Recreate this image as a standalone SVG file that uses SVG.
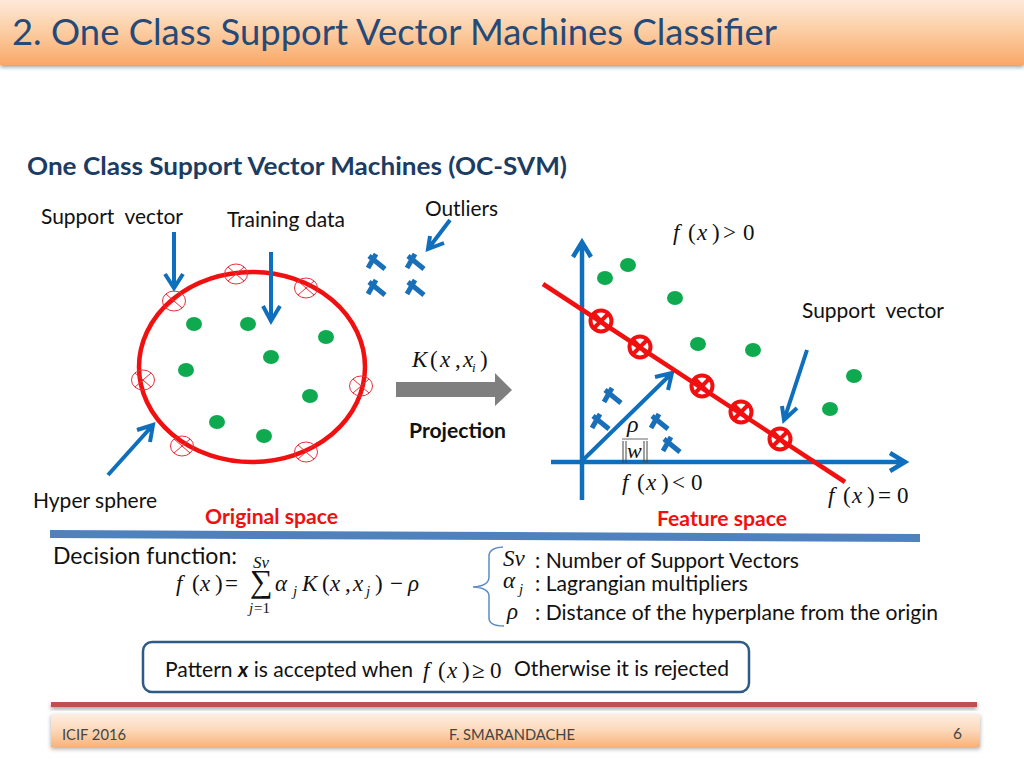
<svg xmlns="http://www.w3.org/2000/svg" width="1024" height="768" viewBox="0 0 1024 768">
<style>
text{font-family:Lato,"Open Sans","Liberation Sans",sans-serif;fill:#111}
.lbl{font-size:20.500px}
text.m{font-family:"Liberation Serif",serif;font-size:23px;fill:#111}
.i{font-style:italic}
.b{font-weight:700}
text.red{fill:#f01010}
.g{fill:#0faa4f}
.ar{fill:none;stroke:#0f6fbd;stroke-width:4;stroke-linecap:butt;stroke-linejoin:miter}
.sv{fill:none;stroke:#e8303a;stroke-width:1}
.svb{fill:none;stroke:#f01010;stroke-width:4}
.t{fill:none;stroke:#1a70b8;stroke-width:5}
</style>
<defs>
<linearGradient id="hd" x1="0" y1="0" x2="0" y2="1"><stop offset="0" stop-color="#fde9d9"/><stop offset="0.45" stop-color="#fccfa6"/><stop offset="1" stop-color="#f9a868"/></linearGradient>
<linearGradient id="ft" x1="0" y1="0" x2="0" y2="1"><stop offset="0" stop-color="#fdeee2"/><stop offset="0.5" stop-color="#fcd8b8"/><stop offset="1" stop-color="#f9b27a"/></linearGradient>
<filter id="sh" x="-2%" y="-20%" width="104%" height="150%"><feGaussianBlur stdDeviation="2"/></filter>
<g id="sc"><ellipse rx="11.500" ry="10" class="sv"/><path d="M-8-7L8 7M-8 7L8-7" class="sv"/></g>
<g id="sb"><circle r="10.500" class="svb"/><path d="M-7.500-7.500L7.500 7.500M-7.500 7.500L7.500-7.500" class="svb"/></g>
<g id="tx"><path d="M-6-6L10 7M-7 6L1-8" class="t"/></g>
</defs>

<g id="header">
<rect x="0" y="3" width="1024" height="64" fill="#999" filter="url(#sh)"/>
<rect x="0" y="0" width="1024" height="65" fill="url(#hd)"/>
<text x="12" y="45" font-size="37" textLength="765" lengthAdjust="spacingAndGlyphs" style="fill:#254a78">2. One Class Support Vector Machines Classifier</text>
</g>
<text id="subtitle" x="27" y="175" font-size="25" class="b" textLength="540" lengthAdjust="spacingAndGlyphs" style="fill:#1b3c63">One Class Support Vector Machines (OC-SVM)</text>

<g id="labels-left">
<text class="lbl" x="41" y="224" textLength="142" lengthAdjust="spacingAndGlyphs">Support&#160; vector</text>
<text class="lbl" x="227" y="227" textLength="118" lengthAdjust="spacingAndGlyphs">Training data</text>
<text class="lbl" x="425" y="216" textLength="73" lengthAdjust="spacingAndGlyphs">Outliers</text>
<text class="lbl" x="33" y="508" textLength="124" lengthAdjust="spacingAndGlyphs">Hyper sphere</text>
<text class="lbl b red" x="205" y="524" textLength="133" lengthAdjust="spacingAndGlyphs">Original space</text>
<text class="lbl b" x="409" y="438" textLength="97" lengthAdjust="spacingAndGlyphs">Projection</text>
</g>

<g id="hyper-sphere">
<ellipse cx="252" cy="367" rx="113" ry="95" fill="none" stroke="#f01010" stroke-width="4.500"/>
</g>
<g id="support-left">
<use href="#sc" x="236" y="274"/><use href="#sc" x="306" y="288"/><use href="#sc" x="174" y="301"/><use href="#sc" x="143" y="380"/><use href="#sc" x="361" y="386"/><use href="#sc" x="182" y="446"/><use href="#sc" x="306" y="452"/>
</g>
<g id="points-left" class="g">
<ellipse cx="194" cy="324" rx="8" ry="7"/><ellipse cx="248" cy="324" rx="8" ry="7"/><ellipse cx="326" cy="337" rx="8" ry="7"/><ellipse cx="271" cy="357" rx="8" ry="7"/><ellipse cx="186" cy="370" rx="8" ry="7"/><ellipse cx="310" cy="396" rx="8" ry="7"/><ellipse cx="217" cy="422" rx="8" ry="7"/><ellipse cx="264" cy="436" rx="8" ry="7"/>
</g>
<g id="outliers-left">
<use href="#tx" x="375" y="262"/><use href="#tx" x="414" y="262"/><use href="#tx" x="375" y="288"/><use href="#tx" x="414" y="288"/>
</g>

<g id="connectors">
<path class="ar" d="M174 232V288M165 274L174 288L183 274"/>
<path class="ar" d="M271 252V321M263 306L271 321L280 306"/>
<path class="ar" d="M450 220L428 249M430 236L428 249L444 243"/>
<path class="ar" d="M108 475L153 425M137 430L153 425L150 442"/>
<path class="ar" style="stroke-width:4.500" d="M582 500V242M573 257L582 242L591 257"/>
<path class="ar" style="stroke-width:4.500" d="M551 462H905M890 453L905 462L890 471"/>
<path class="ar" d="M583 460L672 373M655 377L672 373L668 390"/>
<path class="ar" d="M807 350L784 420M782 406L784 420L797 408"/>
</g>
<path id="projection-arrow" d="M396 382H495V373L512 390L495 406V397H396Z" fill="#7f7f7f"/>

<g id="feature-plot">
<line x1="543" y1="284" x2="845" y2="482" stroke="#f01010" stroke-width="4.500"/>
<use href="#sb" x="601" y="321"/><use href="#sb" x="640" y="347"/><use href="#sb" x="702" y="386"/><use href="#sb" x="741" y="412"/><use href="#sb" x="780" y="439"/>
<g class="g"><ellipse cx="605" cy="278" rx="8" ry="7"/><ellipse cx="628" cy="265" rx="8" ry="7"/><ellipse cx="675" cy="298" rx="8" ry="7"/><ellipse cx="698" cy="344" rx="8" ry="7"/><ellipse cx="753" cy="350" rx="8" ry="7"/><ellipse cx="854" cy="376" rx="8" ry="7"/><ellipse cx="830" cy="409" rx="8" ry="7"/></g>
<use href="#tx" x="611" y="396"/><use href="#tx" x="599" y="422"/><use href="#tx" x="658" y="422"/><use href="#tx" x="670" y="445"/>
</g>

<g id="math-plot">
<text class="m" y="367"><tspan class="i" x="412">K</tspan><tspan x="430">(</tspan><tspan class="i" x="440">x</tspan><tspan x="455">,</tspan><tspan class="i" x="463">x</tspan><tspan x="480">)</tspan></text>
<text class="m i" x="472" y="372" style="font-size:13px">i</text>
<text class="m" y="240"><tspan class="i" x="673">f</tspan><tspan x="688">(</tspan><tspan class="i" x="697">x</tspan><tspan x="712">)</tspan><tspan x="723">&gt;</tspan><tspan x="743">0</tspan></text>
<text class="m" y="490"><tspan class="i" x="622">f</tspan><tspan x="637">(</tspan><tspan class="i" x="646">x</tspan><tspan x="661">)</tspan><tspan x="672">&lt;</tspan><tspan x="691">0</tspan></text>
<text class="m" y="503"><tspan class="i" x="828">f</tspan><tspan x="843">(</tspan><tspan class="i" x="852">x</tspan><tspan x="867">)</tspan><tspan x="878">=</tspan><tspan x="897">0</tspan></text>
<text class="m i" x="627" y="432" style="font-size:24px">ρ</text>
<line x1="622" y1="439" x2="648" y2="439" stroke="#666" stroke-width="1"/>
<text class="m i" x="627" y="458" style="font-size:22px">w</text>
<path d="M623 441V463M626 441V463M644 441V463M647 441V463" stroke="#444" stroke-width="1" fill="none"/>
</g>
<text class="lbl" x="802" y="318" textLength="142" lengthAdjust="spacingAndGlyphs">Support&#160; vector</text>
<text class="lbl b red" x="657" y="526" textLength="130" lengthAdjust="spacingAndGlyphs">Feature space</text>

<polygon id="divider" points="50,530 920,534 920,542 50,538" fill="#4f81bd"/>

<g id="decision">
<text x="53" y="564" font-size="23.500" textLength="184" lengthAdjust="spacingAndGlyphs">Decision function:</text>
<text class="m" y="591"><tspan class="i" x="176">f</tspan><tspan x="192">(</tspan><tspan class="i" x="200">x</tspan><tspan x="215">)</tspan><tspan x="225">=</tspan></text>
<text class="m i" x="253" y="568" style="font-size:17px">Sv</text>
<text class="m" x="250" y="592" style="font-size:32px">∑</text>
<text class="m" y="613" style="font-size:15px"><tspan class="i" x="249">j</tspan><tspan x="254">=1</tspan></text>
<text class="m" y="591"><tspan class="i" x="275">α</tspan><tspan class="i" x="302">K</tspan><tspan x="322">(</tspan><tspan class="i" x="330">x</tspan><tspan x="345">,</tspan><tspan class="i" x="353">x</tspan><tspan x="375">)</tspan><tspan x="390">−</tspan><tspan class="i" x="408">ρ</tspan></text>
<text class="m i" x="293" y="596" style="font-size:15px">j</text>
<text class="m i" x="366" y="596" style="font-size:15px">j</text>
</g>
<path id="brace" d="M503 547Q489 548 489 556V577Q489 586 473 587Q489 588 489 596V618Q489 626 504 626" fill="none" stroke="#5b8cc6" stroke-width="1.500"/>
<g id="legend">
<text class="m i" x="503" y="566">Sv</text>
<text class="m i" x="503" y="588">α</text>
<text class="m i" x="519" y="594" style="font-size:15px">j</text>
<text class="m i" x="507" y="619">ρ</text>
<text class="lbl" x="535" y="568" textLength="264" lengthAdjust="spacingAndGlyphs">: Number of Support Vectors</text>
<text class="lbl" x="535" y="591" textLength="213" lengthAdjust="spacingAndGlyphs">: Lagrangian multipliers</text>
<text class="lbl" x="535" y="620" textLength="403" lengthAdjust="spacingAndGlyphs">: Distance of the hyperplane from the origin</text>
</g>

<g id="rule-box">
<rect x="143" y="642" width="606" height="50" rx="9" fill="#fff" stroke="#2f5a85" stroke-width="2.500"/>
<text class="lbl" x="165" y="677" textLength="248" lengthAdjust="spacingAndGlyphs">Pattern <tspan class="b i">x</tspan> is accepted when</text>
<text class="m" y="678"><tspan class="i" x="423">f</tspan><tspan x="438">(</tspan><tspan class="i" x="447">x</tspan><tspan x="462">)</tspan><tspan x="472">≥</tspan><tspan x="490">0</tspan></text>
<text class="lbl" x="514" y="676" textLength="215" lengthAdjust="spacingAndGlyphs">Otherwise it is rejected</text>
</g>

<g id="footer">
<rect x="51" y="704" width="926" height="5" fill="#999" filter="url(#sh)"/>
<rect x="51" y="702" width="926" height="5" fill="#c0504d"/>
<rect x="51" y="716" width="929" height="33" fill="#aaa" filter="url(#sh)"/>
<rect x="51" y="714" width="929" height="33" fill="url(#ft)"/>
<text x="62" y="740" font-size="15.500" textLength="64" lengthAdjust="spacingAndGlyphs" style="fill:#444">ICIF 2016</text>
<text x="449" y="740" font-size="15.500" textLength="126" lengthAdjust="spacingAndGlyphs" style="fill:#444">F. SMARANDACHE</text>
<text x="953" y="739" font-size="15.500" style="fill:#444">6</text>
</g>
</svg>
